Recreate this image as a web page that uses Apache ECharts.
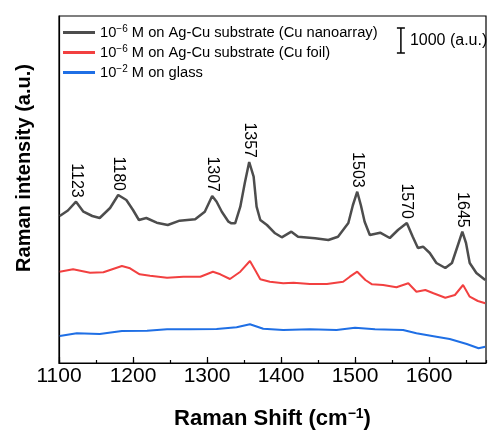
<!DOCTYPE html>
<html>
<head>
<meta charset="utf-8">
<script src="https://cdn.jsdelivr.net/npm/echarts@6/dist/echarts.min.js"></script>
<style>
  html, body { margin: 0; padding: 0; background: #fff; }
  #chart { width: 488px; height: 430px; }
</style>
</head>
<body>
<div id="chart"></div>
<script>
// Raman spectra, [wavenumber (cm-1), intensity (a.u., offset)]
const nanoarrayData = [
  [1101, 5880], [1112, 6100], [1123, 6452], [1133, 6052], [1145, 5880], [1155, 5800],
  [1169, 6200], [1180, 6720], [1191, 6520], [1200, 6120], [1208, 5720], [1218, 5800],
  [1232, 5612], [1247, 5520], [1263, 5692], [1284, 5748], [1297, 6052], [1307, 6680],
  [1313, 6452], [1320, 6052], [1329, 5652], [1333, 5588], [1338, 5588], [1345, 6252],
  [1351, 7188], [1357, 8040], [1363, 7452], [1367, 6252], [1372, 5720], [1381, 5520],
  [1392, 5188], [1401, 5028], [1414, 5252], [1423, 5052], [1446, 4988], [1464, 4920],
  [1477, 5052], [1491, 5600], [1497, 6300], [1503, 6852], [1508, 6300], [1513, 5652],
  [1520, 5120], [1534, 5212], [1547, 5000], [1558, 5320], [1570, 5600], [1578, 5052],
  [1585, 4600], [1592, 4652], [1601, 4400], [1610, 4000], [1622, 3800], [1631, 4000],
  [1640, 4800], [1645, 5252], [1650, 4800], [1655, 4000], [1664, 3600], [1676, 3320]
]
const foilData = [
  [1101, 3652], [1119, 3748], [1142, 3612], [1160, 3628], [1185, 3880], [1196, 3788],
  [1209, 3548], [1223, 3492], [1246, 3412], [1268, 3452], [1291, 3452], [1308, 3652],
  [1318, 3548], [1331, 3360], [1345, 3652], [1358, 4080], [1365, 3720], [1372, 3348],
  [1385, 3252], [1403, 3188], [1417, 3212], [1439, 3160], [1462, 3160], [1484, 3252],
  [1493, 3452], [1503, 3652], [1514, 3320], [1523, 3148], [1538, 3120], [1556, 3028],
  [1572, 3188], [1583, 2852], [1595, 2920], [1606, 2788], [1622, 2612], [1635, 2720],
  [1646, 3120], [1655, 2652], [1666, 2480], [1676, 2388]
]
const glassData = [
  [1101, 1080], [1124, 1188], [1155, 1160], [1185, 1280], [1219, 1292], [1246, 1348],
  [1277, 1348], [1313, 1360], [1340, 1428], [1358, 1548], [1376, 1372], [1403, 1320],
  [1439, 1348], [1475, 1320], [1500, 1412], [1527, 1348], [1565, 1320], [1583, 1188],
  [1610, 1052], [1628, 960], [1651, 760], [1667, 588], [1676, 652]
]
const seriesNames = [
  '10{sup|−6} M on Ag-Cu substrate (Cu nanoarray)',
  '10{sup|−6} M on Ag-Cu substrate (Cu foil)',
  '10{sup|−2} M on glass'
]
const peakLabels = [1123, 1180, 1307, 1357, 1503, 1570, 1645]
const scaleBar = { x: 1562, from: 12400, size: 1000, text: '1000 (a.u.)' }
const xTicks = { min: 1100, max: 1677, major: 100, minor: 50 }
const yRange = { min: 0, max: 13880 }

const font = 'Arial, "Liberation Sans", Helvetica, sans-serif'
const chart = echarts.init(document.getElementById('chart'))

const peakData = peakLabels.map(p => {
  const pt = nanoarrayData.find(d => d[0] === p)
  return [p, pt[1]]
})

const option = {
  animation: false,
  textStyle: { fontFamily: font },
  grid: {
    left: 59, right: 2, top: 16, bottom: 67,
    outerBoundsMode: 'none',
    show: true, borderColor: '#000', borderWidth: 1.2
  },
  legend: {
    orient: 'vertical',
    left: 63,
    top: 24,
    padding: 0,
    icon: 'rect',
    itemWidth: 32,
    itemHeight: 3,
    itemGap: 4,
    data: seriesNames,
    formatter: n => n,
    textStyle: {
      fontSize: 14.7,
      color: '#000',
      fontFamily: font,
      rich: { sup: { fontSize: 10, padding: [0, 0, 7, 0], fontFamily: font, color: '#000' } }
    }
  },
  xAxis: [{
    type: 'value',
    min: xTicks.min,
    max: xTicks.max,
    interval: xTicks.major,
    name: 'Raman Shift (cm{sup|−1})',
    nameLocation: 'middle',
    nameGap: 44,
    nameTextStyle: {
      fontSize: 22, fontWeight: 'bold', color: '#000', fontFamily: font,
      rich: { sup: { fontSize: 14, fontWeight: 'bold', padding: [0, 0, 10, 0], fontFamily: font, color: '#000' } }
    },
    axisLine: { lineStyle: { color: '#000', width: 1.2 } },
    axisTick: { inside: true, length: 6, lineStyle: { color: '#000', width: 1.2 } },
    axisLabel: {
      fontSize: 21, color: '#000', margin: 3, showMaxLabel: false, fontFamily: font,
      formatter: v => String(v)
    },
    splitLine: { show: false }
  }, {
    type: 'value',
    position: 'bottom',
    min: xTicks.min,
    max: xTicks.max,
    interval: xTicks.minor,
    axisLine: { show: false },
    axisTick: { inside: true, length: 3, lineStyle: { color: '#000', width: 1.2 } },
    axisLabel: { show: false },
    splitLine: { show: false }
  }],
  yAxis: {
    type: 'value',
    min: yRange.min,
    max: yRange.max,
    axisLine: { show: true, lineStyle: { color: '#000', width: 1.2 } },
    axisTick: { show: false },
    axisLabel: { show: false },
    splitLine: { show: false }
  },
  graphic: [{
    type: 'text',
    x: 24,
    y: 168,
    rotation: Math.PI / 2,
    style: {
      text: 'Raman intensity (a.u.)',
      font: 'bold 20px ' + font,
      fill: '#000',
      align: 'center',
      verticalAlign: 'middle'
    }
  }],
  series: [{
    name: seriesNames[0],
    type: 'line',
    data: nanoarrayData,
    showSymbol: false,
    symbol: 'none',
    color: '#4d4d4d',
    lineStyle: { width: 2.5, color: '#4d4d4d' },
    z: 4
  }, {
    name: seriesNames[1],
    type: 'line',
    data: foilData,
    showSymbol: false,
    symbol: 'none',
    color: '#f24040',
    lineStyle: { width: 2, color: '#f24040' },
    z: 3
  }, {
    name: seriesNames[2],
    type: 'line',
    data: glassData,
    showSymbol: false,
    symbol: 'none',
    color: '#1f6fe5',
    lineStyle: { width: 2, color: '#1f6fe5' },
    z: 3
  }, {
    type: 'custom',
    data: peakData,
    silent: true,
    z: 5,
    renderItem: (params, api) => {
      const pt = api.coord([api.value(0), api.value(1)])
      return {
        type: 'text',
        x: pt[0],
        y: pt[1] - 4,
        rotation: -Math.PI / 2,
        style: {
          text: String(api.value(0)),
          font: '16px ' + font,
          fill: '#000',
          align: 'right',
          verticalAlign: 'middle'
        }
      }
    }
  }, {
    type: 'custom',
    data: [[scaleBar.x, scaleBar.from, scaleBar.from + scaleBar.size]],
    silent: true,
    z: 5,
    renderItem: (params, api) => {
      const a = api.coord([api.value(0), api.value(1)])
      const b = api.coord([api.value(0), api.value(2)])
      const cap = 4
      const ls = { stroke: '#000', lineWidth: 1.5 }
      return {
        type: 'group',
        children: [
          { type: 'line', shape: { x1: a[0], y1: a[1], x2: b[0], y2: b[1] }, style: ls },
          { type: 'line', shape: { x1: a[0] - cap, y1: a[1], x2: a[0] + cap, y2: a[1] }, style: ls },
          { type: 'line', shape: { x1: b[0] - cap, y1: b[1], x2: b[0] + cap, y2: b[1] }, style: ls },
          {
            type: 'text',
            x: a[0] + 9,
            y: (a[1] + b[1]) / 2,
            style: { text: scaleBar.text, font: '16px ' + font, fill: '#000', align: 'left', verticalAlign: 'middle' }
          }
        ]
      }
    }
  }]
}
chart.setOption(option)
</script>
</body>
</html>
